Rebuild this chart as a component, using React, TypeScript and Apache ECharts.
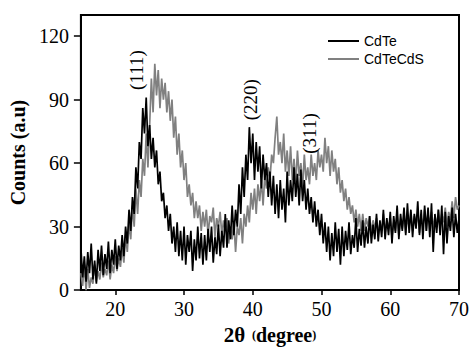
import React, { useEffect, useRef } from "react";
import * as echarts from "echarts";

// 2θ sampling grid of the digitised patterns
const THETA_START = 15;
const THETA_STEP = 0.25;

// CdTe counts (a.u), one row per degree of 2θ (15 … 70)
const cdTe = [
  20, 6, 16, 4,
  18, 8, 22, 5,
  14, 3, 19, 9,
  21, 7, 17, 10,
  23, 8, 19, 12,
  24, 10, 21, 14,
  26, 16, 30, 22,
  38, 28, 44, 36,
  58, 48, 70, 62,
  86, 74, 91, 68,
  78, 62, 72, 58,
  66, 50, 56, 42,
  46, 34, 40, 28,
  36, 22, 30, 18,
  32, 16, 28, 14,
  30, 12, 26, 18,
  28, 9, 24, 14,
  30, 15, 27, 12,
  26, 14, 29, 18,
  30, 13, 25, 17,
  31, 16, 28, 20,
  36, 20, 33, 24,
  40, 26, 38, 30,
  50, 36, 58, 44,
  64, 52, 77, 60,
  74, 52, 70, 56,
  68, 48, 64, 52,
  60, 44, 56, 40,
  54, 36, 50, 34,
  52, 38, 48, 32,
  56, 40, 52, 42,
  58, 44, 55, 40,
  57, 42, 52, 38,
  48, 36, 44, 32,
  42, 30, 38, 26,
  36, 22, 32, 18,
  30, 14, 27, 16,
  32, 18, 29, 12,
  30, 16, 28, 19,
  32, 17, 26, 20,
  34, 18, 29, 21,
  33, 20, 30, 22,
  35, 22, 31, 24,
  36, 23, 33, 25,
  38, 24, 34, 26,
  37, 22, 35, 27,
  40, 24, 36, 28,
  39, 26, 41, 27,
  38, 25, 36, 29,
  42, 26, 38, 24,
  40, 28, 39, 25,
  41, 18, 36, 27,
  38, 26, 40, 17,
  37, 22, 35, 28,
  39, 25, 36, 27,
  34,
];

// CdTeCdS counts (a.u), same 2θ grid
const cdTeCdS = [
  8, 2, 12, 0,
  10, 1, 6, 3,
  12, 4, 9, 5,
  13, 6, 10, 7,
  14, 5, 12, 8,
  16, 9, 15, 11,
  20, 13, 26, 18,
  32, 24, 40, 30,
  48, 36, 52, 44,
  62, 54, 74, 58,
  78, 100, 84, 107,
  92, 104, 86, 100,
  90, 98, 84, 94,
  80, 90, 72, 82,
  64, 74, 58, 66,
  52, 60, 44, 50,
  40, 46, 34, 42,
  34, 40, 28, 37,
  30, 38, 26, 35,
  32, 39, 25, 34,
  30, 37, 26, 33,
  28, 34, 22, 30,
  24, 32, 18, 30,
  26, 34, 22, 36,
  30, 40, 32, 46,
  38, 48, 36, 50,
  42, 52, 40, 54,
  48, 58, 52, 64,
  60, 72, 82, 64,
  70, 60, 74, 56,
  66, 54, 68, 52,
  62, 50, 66, 54,
  60, 48, 64, 52,
  58, 50, 64, 54,
  60, 52, 66, 58,
  64, 56, 72, 60,
  68, 54, 66, 56,
  62, 50, 58, 46,
  52, 42, 48, 38,
  44, 36, 40, 32,
  38, 30, 36, 28,
  36, 28, 34, 30,
  35, 27, 33, 29,
  34, 26, 32, 28,
  36, 27, 33, 29,
  34, 25, 32, 28,
  36, 26, 33, 29,
  35, 27, 34, 30,
  37, 28, 35, 31,
  36, 27, 34, 30,
  38, 28, 36, 31,
  37, 29, 35, 30,
  38, 30, 36, 32,
  39, 30, 37, 33,
  42, 34, 44, 38,
  40,
];

const xTicks = [20, 30, 40, 50, 60, 70];
const yTicks = [0, 30, 60, 90, 120];

const seriesNames = ["CdTe", "CdTeCdS"];

const peakLabels = [
  { name: "(111)", theta: 23.1, counts: 104 },
  { name: "(220)", theta: 39.7, counts: 90 },
  { name: "(311)", theta: 48.3, counts: 74 },
];

const SERIF = "'Liberation Serif', 'Times New Roman', serif";
const SANS = "'Liberation Sans', Arial, sans-serif";

export default function App() {
  const ref = useRef<HTMLDivElement>(null);

  useEffect(() => {
    document.body.style.margin = "0";
    const chart = echarts.init(ref.current as HTMLDivElement, null, { renderer: "svg" });
    const toPairs = (vals: number[]) =>
      vals.map((v, i) => [THETA_START + i * THETA_STEP, v]);

    chart.setOption({
      animation: false,
      backgroundColor: "#ffffff",
      grid: {
        left: 77,
        right: 10,
        top: 15,
        bottom: 51,
        show: true,
        borderColor: "#000",
        borderWidth: 2,
        backgroundColor: "transparent",
      },
      legend: {
        data: seriesNames,
        orient: "vertical",
        left: 328,
        top: 34,
        padding: 0,
        itemWidth: 31,
        itemHeight: 2,
        itemGap: 4,
        icon: "rect",
        textStyle: { fontFamily: SANS, fontSize: 14, color: "#000" },
      },
      xAxis: {
        type: "value",
        min: 15,
        max: 70,
        name: "{a|2θ}  {p|(}{b|degree}{p|)}",
        nameLocation: "middle",
        nameGap: 27,
        nameTextStyle: {
          rich: {
            a: { fontFamily: SERIF, fontWeight: "bold", fontSize: 21, color: "#000" },
            b: { fontFamily: SERIF, fontWeight: "bold", fontSize: 20, color: "#000" },
            p: { fontFamily: SERIF, fontWeight: "bold", fontSize: 12, color: "#000" },
          },
        },
        axisLine: { lineStyle: { color: "#000", width: 2 } },
        axisTick: { customValues: xTicks, length: 5, lineStyle: { color: "#000", width: 1.5 } },
        axisLabel: { customValues: xTicks, margin: 9, fontFamily: SERIF, fontSize: 20, color: "#000" },
        splitLine: { show: false },
      },
      yAxis: {
        type: "value",
        min: 0,
        max: 130,
        name: "Counts (a.u)",
        nameLocation: "middle",
        nameGap: 50,
        nameTextStyle: { fontFamily: SERIF, fontWeight: "bold", fontSize: 20, color: "#000", padding: [0, 0, 0, 0] },
        axisLine: { show: true, lineStyle: { color: "#000", width: 2 } },
        axisTick: { show: true, customValues: yTicks, length: 7, lineStyle: { color: "#000", width: 1.5 } },
        axisLabel: { customValues: yTicks, margin: 12, fontFamily: SERIF, fontSize: 20, color: "#000" },
        splitLine: { show: false },
      },
      series: [
        {
          name: seriesNames[0],
          type: "line",
          z: 3,
          showSymbol: false,
          symbol: "none",
          data: toPairs(cdTe),
          lineStyle: { color: "#000", width: 1.7 },
          itemStyle: { color: "#000" },
          markPoint: {
            symbol: "circle",
            symbolSize: 0,
            silent: true,
            label: {
              show: true,
              position: "inside",
              rotate: 90,
              formatter: "{b}",
              fontFamily: SERIF,
              fontSize: 19,
              color: "#000",
            },
            data: peakLabels.map((p) => ({ name: p.name, coord: [p.theta, p.counts] })),
          },
        },
        {
          name: seriesNames[1],
          type: "line",
          z: 2,
          showSymbol: false,
          symbol: "none",
          data: toPairs(cdTeCdS),
          lineStyle: { color: "#808080", width: 1.7 },
          itemStyle: { color: "#808080" },
        },
      ],
    });

    return () => chart.dispose();
  }, []);

  return <div ref={ref} style={{ width: 472, height: 350 }} />;
}
